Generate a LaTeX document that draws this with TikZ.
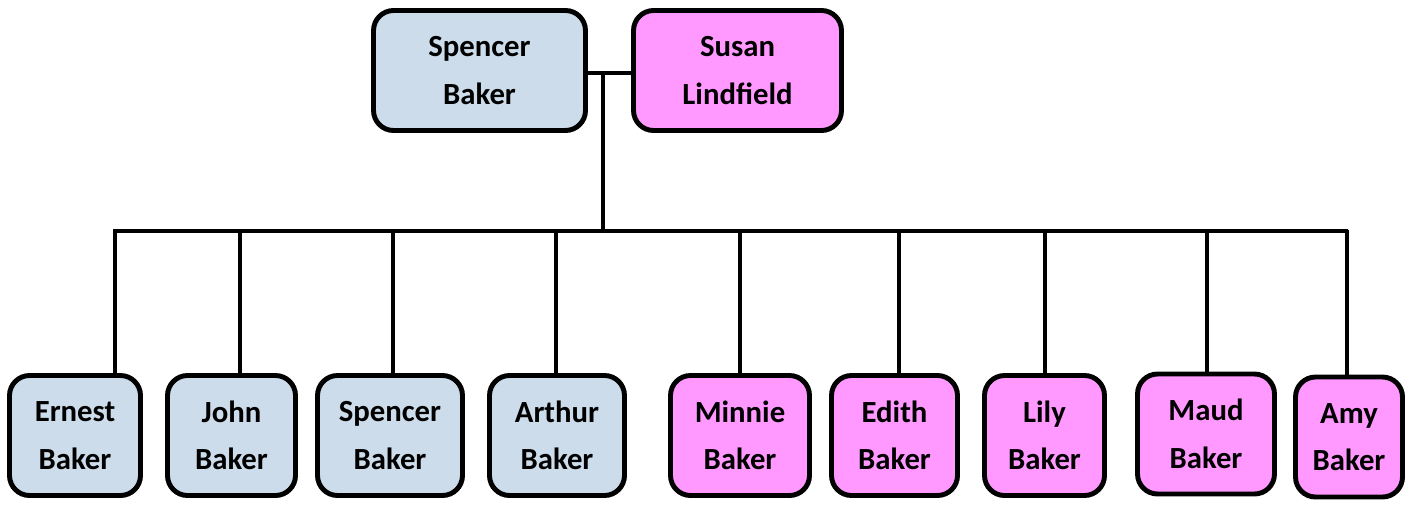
\documentclass[tikz,border=0pt]{standalone}
\usepackage{fontspec}
\setmainfont{Carlito}
\usepackage{xcolor}
\definecolor{boyblue}{HTML}{CCDCEA}
\definecolor{girlpink}{HTML}{FF99FF}

\begin{document}
\begin{tikzpicture}[x=0.02cm, y=-0.02cm, line width=2.3pt,
      person/.style = {draw, line width=2.8pt, rounded corners=0.4cm, align=center, minimum height=2.4cm,
        font=\bfseries\fontsize{17.5}{27}\selectfont},
      boy/.style = {person, fill=boyblue}, girl/.style = {person, fill=girlpink}]
      \useasboundingbox (0,0) rectangle (1413,508);
      \node[boy, minimum width=4.24cm] (p_1) at (479.5,70.5) {Spencer\\Baker};
      \node[girl, minimum width=4.16cm] (p_2) at (737.5,70.5) {Susan\\Lindfield};

      \node[boy, minimum width=2.62cm] (c_1) at (75,435.5) {Ernest\\Baker};
      \node[boy, minimum width=2.56cm] (c_2) at (231.5,435.5) {John\\Baker};
      \node[boy, minimum width=2.9cm] (c_3) at (390,435.5) {Spencer\\Baker};
      \node[boy, minimum width=2.7cm] (c_4) at (557,435.5) {Arthur\\Baker};
      \node[girl, minimum width=2.78cm] (c_5) at (740,435.5) {Minnie\\Baker};
      \node[girl, minimum width=2.52cm] (c_6) at (894.5,435.5) {Edith\\Baker};
      \node[girl, minimum width=2.4cm] (c_7) at (1044.5,435.5) {Lily\\Baker};
      \node[girl, minimum width=2.74cm] (c_8) at (1206,434) {Maud\\Baker};
      \node[girl, minimum width=2.14cm] (c_9) at (1349,437) {Amy\\Baker};

      \coordinate (m) at (603,73);
      \coordinate (bar) at (603,231);
      \draw (p_1.east |- m) -- (p_2.west |- m);
      \draw (m) -- (bar);
      \draw (113,231) coordinate (bl) -- (1348,231) coordinate (br);
      \foreach \i/\x in {1/115, 2/240, 3/393, 4/556, 5/740, 6/899, 7/1045, 8/1207, 9/1347}
        \draw (\x,229.9) -- (\x,0 |- c_\i.north);
    \end{tikzpicture}
\end{document}
